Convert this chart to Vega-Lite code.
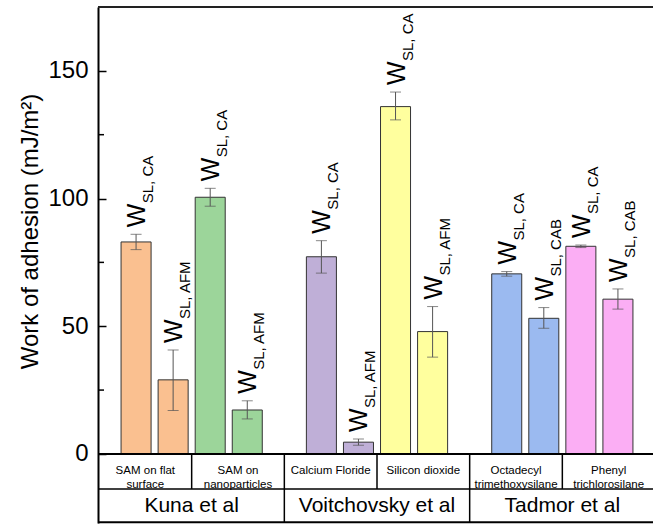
{
  "$schema": "https://vega.github.io/schema/vega-lite/v6.json",
  "width": 555,
  "height": 516,
  "autosize": {"type": "none"},
  "padding": {"left": 98, "top": 7, "right": 0, "bottom": 1},
  "background": "white",
  "config": {"view": {"stroke": null}, "font": "Liberation Sans"},
  "datasets": {
    "bars": [
      {"bar": "flat-CA", "substrate": "SAM on flat surface", "method": "CA", "sub": "SL, CA", "value": 83, "lo": 80, "hi": 86},
      {"bar": "flat-AFM", "substrate": "SAM on flat surface", "method": "AFM", "sub": "SL, AFM", "value": 29, "lo": 17, "hi": 40.7},
      {"bar": "nano-CA", "substrate": "SAM on nanoparticles", "method": "CA", "sub": "SL, CA", "value": 100.5, "lo": 97, "hi": 104},
      {"bar": "nano-AFM", "substrate": "SAM on nanoparticles", "method": "AFM", "sub": "SL, AFM", "value": 17.2, "lo": 13.7, "hi": 20.8},
      {"bar": "CaF2-CA", "substrate": "Calcium Floride", "method": "CA", "sub": "SL, CA", "value": 77.2, "lo": 70.8, "hi": 83.5},
      {"bar": "CaF2-AFM", "substrate": "Calcium Floride", "method": "AFM", "sub": "SL, AFM", "value": 4.6, "lo": 3.4, "hi": 5.8},
      {"bar": "SiO2-CA", "substrate": "Silicon dioxide", "method": "CA", "sub": "SL, CA", "value": 136, "lo": 130.8, "hi": 141.7},
      {"bar": "SiO2-AFM", "substrate": "Silicon dioxide", "method": "AFM", "sub": "SL, AFM", "value": 47.9, "lo": 37.9, "hi": 57.7},
      {"bar": "OTMS-CA", "substrate": "Octadecyl trimethoxysilane", "method": "CA", "sub": "SL, CA", "value": 70.5, "lo": 69.6, "hi": 71.4},
      {"bar": "OTMS-CAB", "substrate": "Octadecyl trimethoxysilane", "method": "CAB", "sub": "SL, CAB", "value": 53.1, "lo": 49.2, "hi": 57.3},
      {"bar": "PTCS-CA", "substrate": "Phenyl trichlorosilane", "method": "CA", "sub": "SL, CA", "value": 81.3, "lo": 80.8, "hi": 81.8},
      {"bar": "PTCS-CAB", "substrate": "Phenyl trichlorosilane", "method": "CAB", "sub": "SL, CAB", "value": 60.6, "lo": 56.7, "hi": 64.6}
    ],
    "cellsLeft": [
      {"firstBar": "flat-CA", "cell": "SAM on flat\nsurface"},
      {"firstBar": "CaF2-CA", "cell": "Calcium Floride"},
      {"firstBar": "OTMS-CA", "cell": "Octadecyl\ntrimethoxysilane"}
    ],
    "cellsRight": [
      {"firstBar": "nano-CA", "cell": "SAM on\nnanoparticles"},
      {"firstBar": "SiO2-CA", "cell": "Silicon dioxide"},
      {"firstBar": "PTCS-CA", "cell": "Phenyl\ntrichlorosilane"}
    ],
    "authors": [
      {"author": "Kuna et al", "pairBar": "flat-AFM"},
      {"author": "Voitchovsky et al", "pairBar": "CaF2-AFM"},
      {"author": "Tadmor et al", "pairBar": "OTMS-CAB"}
    ],
    "gaps": [{"gap": "gap1"}, {"gap": "gap2"}]
  },
  "layer": [
    {
      "data": {"name": "bars"},
      "mark": {"type": "bar", "width": {"band": 0.81}, "stroke": "#333333", "strokeWidth": 1},
      "encoding": {
        "x": {
          "field": "bar", "type": "nominal", "axis": null,
          "scale": {
            "domain": ["flat-CA", "flat-AFM", "nano-CA", "nano-AFM", "gap1", "CaF2-CA", "CaF2-AFM", "SiO2-CA", "SiO2-AFM", "gap2", "OTMS-CA", "OTMS-CAB", "PTCS-CA", "PTCS-CAB"],
            "range": [1, 557], "paddingInner": 0, "paddingOuter": 0.5
          }
        },
        "y": {
          "field": "value", "type": "quantitative",
          "title": "Work of adhesion (mJ/m²)",
          "scale": {"domain": [-27.05, 175], "nice": false, "zero": false},
          "axis": {
            "title": "Work of adhesion (mJ/m²)",
            "titleFontSize": 24, "titleFontWeight": "normal", "titleColor": "black",
            "titleAngle": 270, "titleAlign": "center", "titleBaseline": "alphabetic",
            "titleX": -61, "titleY": 224,
            "values": [0, 25, 50, 75, 100, 125, 150],
            "labelExpr": "datum.value % 50 === 0 ? datum.label : ''",
            "labelFontSize": 24, "labelColor": "black", "labelPadding": 18,
            "tickSize": -8,
            "tickOpacity": {"condition": {"test": "datum.value % 50 === 0", "value": 1}, "value": 0},
            "tickColor": "black", "tickWidth": 1.5,
            "domainColor": "black", "domainWidth": 2, "grid": false
          }
        },
        "fill": {
          "field": "substrate", "type": "nominal", "legend": null,
          "scale": {
            "domain": ["SAM on flat surface", "SAM on nanoparticles", "Calcium Floride", "Silicon dioxide", "Octadecyl trimethoxysilane", "Phenyl trichlorosilane"],
            "range": ["#FAC090", "#9CD59A", "#BFAFD7", "#FFFF9E", "#9BBAF0", "#FBAEF4"]
          }
        }
      }
    },
    {
      "data": {"values": [{"minor": 25}, {"minor": 75}, {"minor": 125}]},
      "mark": {"type": "rule", "color": "black", "strokeWidth": 1.5},
      "encoding": {
        "x": {"datum": "flat-CA", "type": "nominal", "bandPosition": -0.5},
        "x2": {"datum": "flat-CA", "bandPosition": -0.365},
        "y": {"field": "minor", "type": "quantitative", "title": "Work of adhesion (mJ/m²)"}
      }
    },
    {
      "data": {"name": "bars"},
      "mark": {"type": "errorbar", "ticks": {"size": 11, "thickness": 1, "color": "#555555"}, "rule": {"color": "#555555", "strokeWidth": 1}},
      "encoding": {
        "x": {"field": "bar", "type": "nominal"},
        "y": {"field": "lo", "type": "quantitative", "title": "Work of adhesion (mJ/m²)"},
        "y2": {"field": "hi"}
      }
    },
    {
      "data": {"name": "bars"},
      "mark": {"type": "text", "angle": 270, "align": "left", "baseline": "alphabetic", "fontSize": 25, "dx": 7, "dy": 9, "color": "black"},
      "encoding": {
        "x": {"field": "bar", "type": "nominal"},
        "y": {"field": "hi", "type": "quantitative", "title": "Work of adhesion (mJ/m²)"},
        "text": {"value": "W"}
      }
    },
    {
      "data": {"name": "bars"},
      "mark": {"type": "text", "angle": 270, "align": "left", "baseline": "alphabetic", "fontSize": 15, "dx": 31, "dy": 17, "color": "black"},
      "encoding": {
        "x": {"field": "bar", "type": "nominal"},
        "y": {"field": "hi", "type": "quantitative", "title": "Work of adhesion (mJ/m²)"},
        "text": {"field": "sub"}
      }
    },
    {
      "data": {"values": [{}]},
      "mark": {"type": "rule", "color": "#222222", "strokeWidth": 2},
      "encoding": {"y": {"datum": 175, "type": "quantitative"}}
    },
    {
      "data": {"values": [{}]},
      "mark": {"type": "rule", "color": "black", "strokeWidth": 2},
      "encoding": {"y": {"datum": 0, "type": "quantitative"}}
    },
    {
      "data": {"values": [{}]},
      "mark": {"type": "rule", "color": "black", "strokeWidth": 1.5},
      "encoding": {"y": {"datum": -13.7, "type": "quantitative"}}
    },
    {
      "data": {"values": [{}]},
      "mark": {"type": "rule", "color": "black", "strokeWidth": 2},
      "encoding": {"y": {"datum": -26.8, "type": "quantitative"}}
    },
    {
      "data": {"name": "authors"},
      "mark": {"type": "rule", "color": "black", "strokeWidth": 1.5},
      "encoding": {
        "x": {"field": "pairBar", "type": "nominal", "bandPosition": 1},
        "y": {"datum": 0, "type": "quantitative"},
        "y2": {"datum": -13.7}
      }
    },
    {
      "data": {"name": "gaps"},
      "mark": {"type": "rule", "color": "black", "strokeWidth": 1.5},
      "encoding": {
        "x": {"field": "gap", "type": "nominal"},
        "y": {"datum": 0, "type": "quantitative"},
        "y2": {"datum": -26.8}
      }
    },
    {
      "data": {"name": "cellsLeft"},
      "mark": {"type": "text", "fontSize": 11.5, "lineHeight": 14, "lineBreak": "\n", "baseline": "middle", "align": "center", "color": "black"},
      "encoding": {
        "x": {"field": "firstBar", "type": "nominal", "bandPosition": 0.75},
        "y": {"datum": -6.85, "type": "quantitative"},
        "text": {"field": "cell"}
      }
    },
    {
      "data": {"name": "cellsRight"},
      "mark": {"type": "text", "fontSize": 11.5, "lineHeight": 14, "lineBreak": "\n", "baseline": "middle", "align": "center", "color": "black"},
      "encoding": {
        "x": {"field": "firstBar", "type": "nominal", "bandPosition": 1.25},
        "y": {"datum": -6.85, "type": "quantitative"},
        "text": {"field": "cell"}
      }
    },
    {
      "data": {"name": "authors"},
      "mark": {"type": "text", "fontSize": 21, "baseline": "middle", "align": "center", "color": "black"},
      "encoding": {
        "x": {"field": "pairBar", "type": "nominal", "bandPosition": 1},
        "y": {"datum": -20.36, "type": "quantitative"},
        "text": {"field": "author"}
      }
    }
  ]
}
